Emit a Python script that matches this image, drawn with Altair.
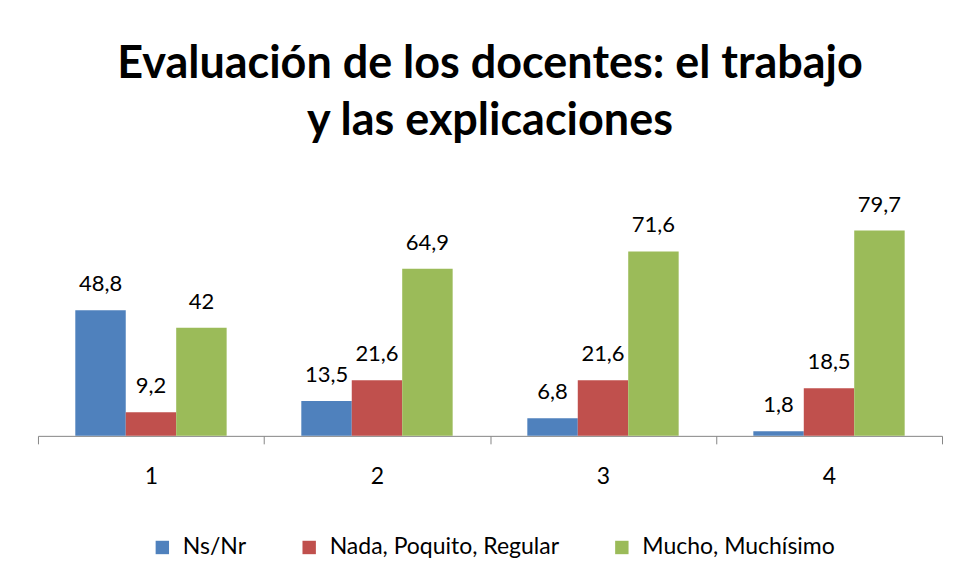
import altair as alt
import pandas as pd

groups = ["1", "2", "3", "4"]
series = ["Ns/Nr", "Nada, Poquito, Regular", "Mucho, Muchísimo"]
ns_nr = [48.8, 13.5, 6.8, 1.8]
nada = [9.2, 21.6, 21.6, 18.5]
mucho = [42, 64.9, 71.6, 79.7]
colors = ["#4F81BD", "#C0504D", "#9BBB59"]

rows = []
for s, vals in zip(series, [ns_nr, nada, mucho]):
    for g, v in zip(groups, vals):
        lab = ("%g" % v).replace(".", ",")
        rows.append({"grupo": g, "serie": s, "valor": v, "etiqueta": lab})
df = pd.DataFrame(rows)

W = 905
H = 232
FONT = "Lato"

x_enc = alt.X(
    "grupo:N",
    sort=groups,
    scale=alt.Scale(paddingInner=0, paddingOuter=0),
    axis=alt.Axis(
        title=None,
        labelAngle=0,
        tickBand="extent",
        domainColor="#868686",
        tickColor="#868686",
        domainWidth=1,
        tickSize=8,
        labelFont=FONT,
        labelFontSize=23,
        labelColor="#000000",
        labelPadding=22,
        grid=False,
    ),
)
xoff = alt.XOffset("serie:N", sort=series,
                   scale=alt.Scale(domain=series, paddingInner=0, paddingOuter=0.74))
y_enc = alt.Y("valor:Q", scale=alt.Scale(domain=[0, 90]), axis=None)

bars = alt.Chart(df).mark_bar().encode(
    x=x_enc,
    xOffset=xoff,
    y=y_enc,
    color=alt.Color(
        "serie:N",
        sort=series,
        scale=alt.Scale(domain=series, range=colors),
        legend=alt.Legend(
            title=None,
            orient="none",
            legendX=113,
            legendY=332,
            direction="horizontal",
            symbolType="square",
            symbolSize=180,
            symbolStrokeWidth=0,
            labelFont=FONT,
            labelFontSize=23,
            labelColor="#000000",
            labelLimit=0,
            columnPadding=51,
            labelOffset=9,
            padding=0,
        ),
    ),
)

labels = alt.Chart(df).mark_text(
    baseline="alphabetic", dy=-19, font=FONT, fontSize=22, color="#000000"
).encode(
    x=x_enc,
    xOffset=xoff,
    y=y_enc,
    text="etiqueta:N",
)

chart = (
    alt.layer(bars, labels)
    .properties(
        width=W,
        height=H,
        padding={"left": 29, "top": 33, "right": 10, "bottom": 10},
        title=alt.TitleParams(
            text=["Evaluación de los docentes: el trabajo", "y las explicaciones"],
            font=FONT,
            fontSize=45,
            fontWeight="bold",
            lineHeight=57,
            anchor="middle",
            color="#000000",
            offset=50,
        ),
    )
    .configure_view(stroke=None)
)

chart.save("out.html", embed_options={"renderer": "svg", "actions": False})
